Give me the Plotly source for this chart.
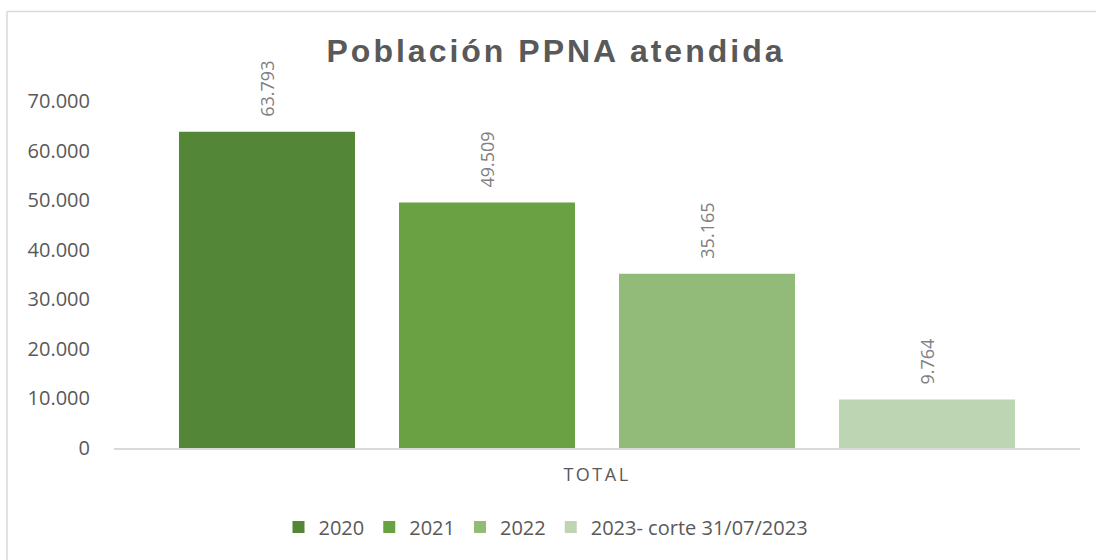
import plotly.graph_objects as go

# ---- data ----
category = ["TOTAL"]
series_names = ["2020", "2021", "2022", "2023- corte 31/07/2023"]
series_values = [63793, 49509, 35165, 9764]
series_colors = ["#548637", "#6AA243", "#92BB7A", "#BED5B3"]
y_ticks = [0, 10000, 20000, 30000, 40000, 50000, 60000, 70000]
title_text = "Población PPNA atendida"

W, H = 1096, 560
ML, MR, MT, MB = 114, 16, 101, 112
BARGAP = 0.089
BARGROUPGAP = 0.2

fig = go.Figure()
for name, val, col in zip(series_names, series_values, series_colors):
    fig.add_trace(go.Bar(x=category, y=[val], name=name, marker=dict(color=col, line=dict(width=0))))

# value labels above each bar (positioned in data units on the category axis)
n = len(series_values)
slot = (1 - BARGAP) / n
for i, val in enumerate(series_values):
    fig.add_annotation(
        x=(i - (n - 1) / 2) * slot, y=val, xref="x", yref="y",
        text=f"{val:,}".replace(",", "."), showarrow=False,
        textangle=-90, yanchor="bottom", xanchor="center", yshift=13,
        font=dict(family="Open Sans", size=18, color="#808080"),
    )

plot_w = W - ML - MR
plot_h = H - MT - MB
px2x = lambda p: (p - ML) / plot_w
px2y = lambda p: (H - MB - p) / plot_h

# outer chart frame (top and left edges visible)
fig.add_shape(type="line", xref="paper", yref="paper", x0=px2x(7), x1=px2x(W), y0=px2y(11.5), y1=px2y(11.5),
              line=dict(color="#D9D9D9", width=1.5))
fig.add_shape(type="line", xref="paper", yref="paper", x0=px2x(7), x1=px2x(7), y0=px2y(11.5), y1=px2y(H),
              line=dict(color="#D9D9D9", width=1.5))

fig.update_layout(
    width=W, height=H, autosize=False,
    margin=dict(l=ML, r=MR, t=MT, b=MB, pad=0),
    paper_bgcolor="white", plot_bgcolor="white",
    separators=",.",
    barmode="group", bargap=BARGAP, bargroupgap=BARGROUPGAP,
    title=dict(text=f"<b>{title_text}</b>", x=556 / W, xanchor="center", y=1 - 51 / H, yanchor="middle",
               xref="container", yref="container",
               font=dict(family="Liberation Sans, Arial", size=32, color="#595959")),
    showlegend=True,
    legend=dict(orientation="h", x=px2x(546), xanchor="center", y=px2y(527), yanchor="middle",
                font=dict(family="Open Sans", size=20, color="#595959"), traceorder="normal",
                itemwidth=30),
    font=dict(family="Open Sans", color="#595959"),
)
fig.update_xaxes(showgrid=False, showline=True, linecolor="#D9D9D9", linewidth=1.5, ticks="",
                 ticklabelstandoff=10,
                 tickfont=dict(family="Open Sans", size=18, color="#595959"), zeroline=False)
fig.update_yaxes(range=[0, 70000], tickvals=y_ticks, tickformat=",d", showgrid=False, showline=False,
                 zeroline=False, ticks="", ticklabelstandoff=23,
                 tickfont=dict(family="Open Sans", size=20, color="#595959"))

post = """
document.documentElement.style.overflow = 'hidden';
document.documentElement.style.margin = '0';
document.body.style.margin = '0';
document.body.style.overflow = 'hidden';
var gd = document.getElementById('{plot_id}');
function ls(){
  document.querySelectorAll('.gtitle').forEach(function(e){e.style.letterSpacing='3px';});
  document.querySelectorAll('.xtick text').forEach(function(e){e.style.letterSpacing='2.5px';});
}
ls(); if (gd && gd.on) gd.on('plotly_afterplot', ls); setTimeout(ls, 200);
"""
fig.write_html("out.html", post_script=post, config={"displayModeBar": False})
